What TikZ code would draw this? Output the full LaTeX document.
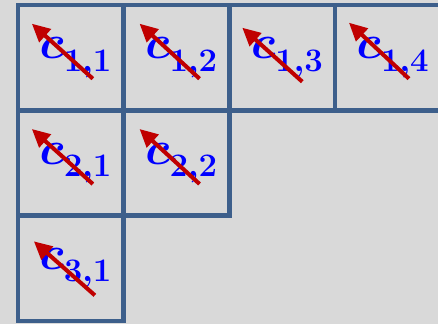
\documentclass[tikz,border=0pt]{standalone}
\usepackage{graphicx}
\usepackage{amsmath,bm}
\usetikzlibrary{arrows.meta,calc}
\definecolor{gridblue}{HTML}{3D5F8B}
\definecolor{panel}{HTML}{D9D9D9}
\definecolor{arrred}{HTML}{C00000}
\DeclareMathSizes{20.74}{20.74}{14.4}{10}
\newcommand{\cname}[2]{\raisebox{-4.5pt}{\hspace*{6pt}\scalebox{1.3}{$\bm{c}_{\raisebox{-2.3pt}{$\scriptstyle\bm{#1{,}#2}$}}$}}}

\begin{document}
\begin{tikzpicture}[x=0.02cm, y=-0.02cm,
  cell/.style={rectangle, draw=gridblue, line width=2.6pt, minimum width=2.114cm, minimum height=2.106cm, inner sep=0pt, font=\fontsize{20.74}{22}\selectfont, text=blue},
  back/.style={-{Triangle[length=0.36cm, width=0.34cm]}, line width=2.3pt, arrred},
]
\useasboundingbox[fill=panel] (0,0) rectangle (438,324);
\clip (0,0) rectangle (438,324);

% === Row 1 ===
\node[cell] (c11) at (70.85,57.7) {\cname{1}{1}};
\node[cell] (c12) at (176.55,57.7) {\cname{1}{2}};
\node[cell] (c13) at (282.25,57.7) {\cname{1}{3}};
\node[cell] (c14) at (387.95,57.7) {\cname{1}{4}};

% === Row 2 ===
\node[cell] (c21) at (70.85,163) {\cname{2}{1}};
\node[cell] (c22) at (176.55,163) {\cname{2}{2}};

% === Row 3 ===
\node[cell] (c31) at (70.85,268.3) {\cname{3}{1}};

% === Arrows ===
\draw[back] ($(c11)+(22,21)$) -- ($(c11)+(-39,-34)$);
\draw[back] ($(c12)+(23,21)$) -- ($(c12)+(-37,-34)$);
\draw[back] ($(c13)+(20,24)$) -- ($(c13)+(-40,-30)$);
\draw[back] ($(c14)+(21,21)$) -- ($(c14)+(-39,-35)$);
\draw[back] ($(c21)+(22,21)$) -- ($(c21)+(-39,-34)$);
\draw[back] ($(c22)+(23,21)$) -- ($(c22)+(-37,-34)$);
\draw[back] ($(c31)+(24,27)$) -- ($(c31)+(-37,-27)$);

\end{tikzpicture}
\end{document}
